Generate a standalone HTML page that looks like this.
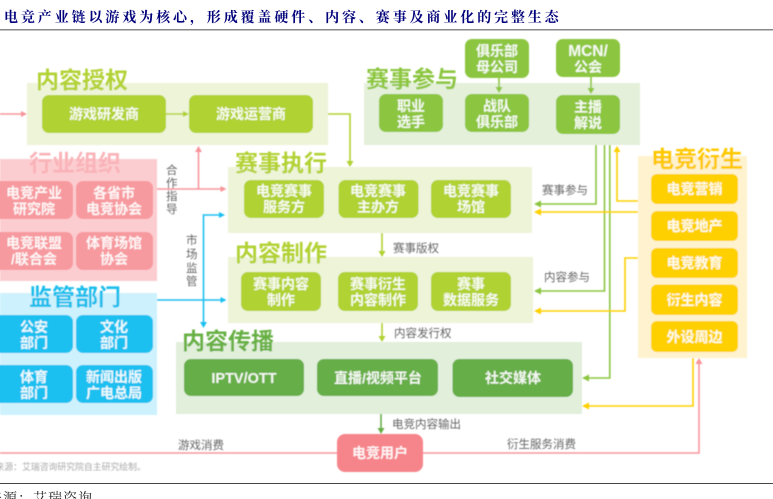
<!DOCTYPE html>
<html lang="zh"><head><meta charset="utf-8"><title>电竞产业链</title>
<style>
html,body{margin:0;padding:0;background:#fff;width:773px;height:499px;overflow:hidden}
svg{display:block}
text{font-family:"Liberation Sans","Noto Sans CJK SC",sans-serif}
.n{fill:#fff;font-size:14px;font-weight:700;text-anchor:middle;opacity:.92}
.h{font-size:23px;font-weight:700}
.l{fill:#666;font-size:11.5px}
.s{fill:none;stroke-width:1.6}
.t{font-family:"Liberation Serif","Noto Serif CJK SC",serif}
</style></head><body>
<svg width="773" height="499" viewBox="0 0 773 499" xmlns="http://www.w3.org/2000/svg">
<defs><filter id="b" x="-2%" y="-2%" width="104%" height="104%"><feGaussianBlur stdDeviation="0.45"/></filter></defs>
<text class="t" x="4" y="22" font-size="14" font-weight="700" fill="#00007a" letter-spacing="2.9">电竞产业链以游戏为核心&#xFF0C;形成覆盖硬件、内容、赛事及商业化的完整生态</text>
<rect x="0" y="29" width="773" height="1.5" fill="#888"/>
<g filter="url(#b)">
<!-- panels -->
<rect x="27" y="83" width="301" height="62" fill="#eef4d8"/>
<rect x="364" y="83" width="276" height="62" fill="#e4f0d9"/>
<rect x="0" y="159" width="157" height="122" fill="#fccdd0"/>
<rect x="0" y="293" width="157" height="122" fill="#cef2fd"/>
<rect x="228" y="167" width="304" height="66" fill="#eef4d8"/>
<rect x="228" y="257" width="305" height="66" fill="#eef4d8"/>
<rect x="176" y="342" width="406" height="72" fill="#e1efdb"/>
<rect x="638" y="156" width="109" height="202" fill="#fff3cf"/>
<!-- headings -->
<text class="h" x="36" y="88" fill="#b2d235">内容授权</text>
<text class="h" x="366" y="87" fill="#8cc63f">赛事参与</text>
<text class="h" x="29" y="171" fill="#f9b3b8">行业组织</text>
<text class="h" x="29" y="305" fill="#1fbdec">监管部门</text>
<text class="h" x="235" y="171" fill="#b2d235">赛事执行</text>
<text class="h" x="235" y="261" fill="#b2d235">内容制作</text>
<text class="h" x="182" y="349" fill="#68b045">内容传播</text>
<text class="h" x="651" y="167" fill="#ffc800">电竞衍生</text>
<!-- green lime nodes -->
<g fill="#b0d232">
<rect x="42" y="95" width="124" height="38" rx="7"/><rect x="189" y="95" width="124" height="38" rx="7"/>
<rect x="244" y="180" width="80" height="38" rx="7"/><rect x="338.500" y="180" width="80" height="38" rx="7"/><rect x="431" y="180" width="80" height="38" rx="7"/>
<rect x="241" y="272" width="80" height="39" rx="7"/><rect x="338" y="272" width="80" height="39" rx="7"/><rect x="431" y="272" width="80" height="39" rx="7"/>
</g>
<g fill="#8cc63f">
<rect x="379" y="94" width="64" height="38" rx="7"/><rect x="465" y="94" width="64" height="38" rx="7"/><rect x="556" y="95" width="64" height="39" rx="7"/>
<rect x="465" y="39" width="64" height="39" rx="7"/><rect x="556" y="39" width="64" height="38" rx="7"/>
</g>
<g fill="#f79a9f">
<rect x="-8" y="181" width="81" height="38" rx="7"/><rect x="76" y="181" width="77" height="38" rx="7"/>
<rect x="-8" y="232" width="81" height="38" rx="7"/><rect x="76" y="232" width="77" height="38" rx="7"/>
</g>
<g fill="#1fc0f0">
<rect x="-8" y="315" width="81" height="38" rx="7"/><rect x="76" y="315" width="77" height="38" rx="7"/>
<rect x="-8" y="365" width="81" height="38" rx="7"/><rect x="76" y="365" width="77" height="38" rx="7"/>
</g>
<g fill="#66ae46">
<rect x="184" y="359" width="120" height="37" rx="7"/><rect x="317" y="359" width="121" height="37" rx="7"/><rect x="452.500" y="359" width="120.500" height="38" rx="7"/>
</g>
<g fill="#ffd000">
<rect x="651" y="174" width="87" height="30" rx="6"/><rect x="651" y="211" width="87" height="30" rx="6"/><rect x="651" y="248" width="87" height="30" rx="6"/><rect x="651" y="284.500" width="87" height="30.500" rx="6"/><rect x="651" y="321" width="87" height="31" rx="6"/>
</g>
<rect x="337" y="434" width="86" height="38" rx="8" fill="#f6858b"/>
<!-- node text -->
<g class="nodes">
<text class="n" x="104" y="119">游戏研发商</text><text class="n" x="251" y="119">游戏运营商</text>
<text class="n" x="411" y="111">职业</text><text class="n" x="411" y="127">选手</text>
<text class="n" x="497" y="111">战队</text><text class="n" x="497" y="127">俱乐部</text>
<text class="n" x="588" y="112">主播</text><text class="n" x="588" y="128">解说</text>
<text class="n" x="497" y="56">俱乐部</text><text class="n" x="497" y="72">母公司</text>
<text class="n" x="588" y="56" style="font-size:15.5px">MCN/</text><text class="n" x="588" y="72">公会</text>
<text class="n" x="34" y="198">电竞产业</text><text class="n" x="34" y="214">研究院</text>
<text class="n" x="114" y="198">各省市</text><text class="n" x="114" y="214">电竞协会</text>
<text class="n" x="34" y="248">电竞联盟</text><text class="n" x="34" y="264">/联合会</text>
<text class="n" x="114" y="248">体育场馆</text><text class="n" x="114" y="264">协会</text>
<text class="n" x="34" y="332">公安</text><text class="n" x="34" y="348">部门</text>
<text class="n" x="114" y="332">文化</text><text class="n" x="114" y="348">部门</text>
<text class="n" x="34" y="382">体育</text><text class="n" x="34" y="398">部门</text>
<text class="n" x="114" y="382">新闻出版</text><text class="n" x="114" y="398">广电总局</text>
<text class="n" x="284" y="196">电竞赛事</text><text class="n" x="284" y="212">服务方</text>
<text class="n" x="378" y="196">电竞赛事</text><text class="n" x="378" y="212">主办方</text>
<text class="n" x="471" y="196">电竞赛事</text><text class="n" x="471" y="212">场馆</text>
<text class="n" x="281" y="289">赛事内容</text><text class="n" x="281" y="305">制作</text>
<text class="n" x="378" y="289">赛事衍生</text><text class="n" x="378" y="305">内容制作</text>
<text class="n" x="471" y="289">赛事</text><text class="n" x="471" y="305">数据服务</text>
<text class="n" x="244" y="383" style="font-size:14.5px">IPTV/OTT</text><text class="n" x="378" y="383">直播/视频平台</text><text class="n" x="513" y="383">社交媒体</text>
<text class="n" x="380" y="458">电竞用户</text>
<text class="n" x="694.500" y="194">电竞营销</text><text class="n" x="694.500" y="231">电竞地产</text><text class="n" x="694.500" y="268">电竞教育</text><text class="n" x="694.500" y="305">衍生内容</text><text class="n" x="694.500" y="342">外设周边</text>
</g>
<!-- connectors: pink -->
<g class="s" stroke="#f8959b">
<path d="M0 114H23"/><path d="M157 189H222"/><path d="M198.500 189V150"/><path d="M0 453H337"/><path d="M423 453H699V363"/>
</g>
<g fill="#f8959b">
<path d="M27 114l-6-3v6z"/><path d="M226.500 189l-6-3v6z"/><path d="M198.500 146l-3.500 6h7z"/><path d="M699 358l-3.500 6h7z"/>
</g>
<!-- blue -->
<g class="s" stroke="#1fc0f0">
<path d="M157 300H222"/><path d="M220 215H203.500V322"/>
</g>
<g fill="#1fc0f0">
<path d="M226.500 300l-6-3v6z"/><path d="M225 215l-6-3v6z"/><path d="M203.500 328l-3.500-6h7z"/>
</g>
<!-- lime -->
<g class="s" stroke="#b0d232">
<path d="M166 114H184"/><path d="M328 114H350V161"/><path d="M382 233V252"/><path d="M382 323V337"/>
</g>
<g fill="#b0d232">
<path d="M189 114l-6-3v6z"/><path d="M350 167l-3.500-6h7z"/><path d="M382 257l-3.500-6h7z"/><path d="M382 342l-3.500-6h7z"/>
</g>
<!-- green -->
<g class="s" stroke="#8cc63f">
<path d="M499 78V88"/><path d="M591 77V89"/>
<path d="M596 145V204H539"/><path d="M604.500 145V291H539"/><path d="M609.800 145V378H587"/>
</g>
<g fill="#8cc63f">
<path d="M499 93l-3.500-6h7z"/><path d="M591 94l-3.500-6h7z"/>
<path d="M534 204l7-3.500v7z"/><path d="M534 291l7-3.500v7z"/><path d="M582 378l7-3.500v7z"/>
</g>
<path d="M381 414V429" class="s" stroke="#66ae46"/><path d="M381 434l-3.500-6h7z" fill="#66ae46"/>
<!-- yellow -->
<g class="s" stroke="#ffd000">
<path d="M638 201H617V151"/><path d="M638 212H539"/><path d="M638 258H625V311H539"/><path d="M693 358V406H587"/>
</g>
<g fill="#ffd000">
<path d="M617 146l-3.500 6h7z"/><path d="M534 212l7-3.500v7z"/><path d="M534 311l7-3.500v7z"/><path d="M582 406l7-3.500v7z"/>
</g>
<!-- labels -->
<g class="l">
<text x="166" y="174">合</text><text x="166" y="187">作</text><text x="166" y="200">指</text><text x="166" y="213">导</text>
<text x="186" y="244">市</text><text x="186" y="258">场</text><text x="186" y="272">监</text><text x="186" y="285">管</text>
<text x="542" y="194">赛事参与</text><text x="544" y="281">内容参与</text>
<text x="393" y="252">赛事版权</text><text x="394" y="337">内容发行权</text><text x="392" y="428">电竞内容输出</text>
<text x="178" y="449">游戏消费</text><text x="507" y="448">衍生服务消费</text>
</g>
<text x="-4.500" y="470" font-size="8.850" fill="#aaa">来源&#xFF1A;艾瑞咨询研究院自主研究绘制。</text>
</g>
<rect x="0" y="483" width="773" height="1" fill="#444"/>
<text class="t" x="-12" y="503" font-size="14" fill="#222" letter-spacing="1">来源&#xFF1A;艾瑞咨询</text>
</svg>
</body></html>
